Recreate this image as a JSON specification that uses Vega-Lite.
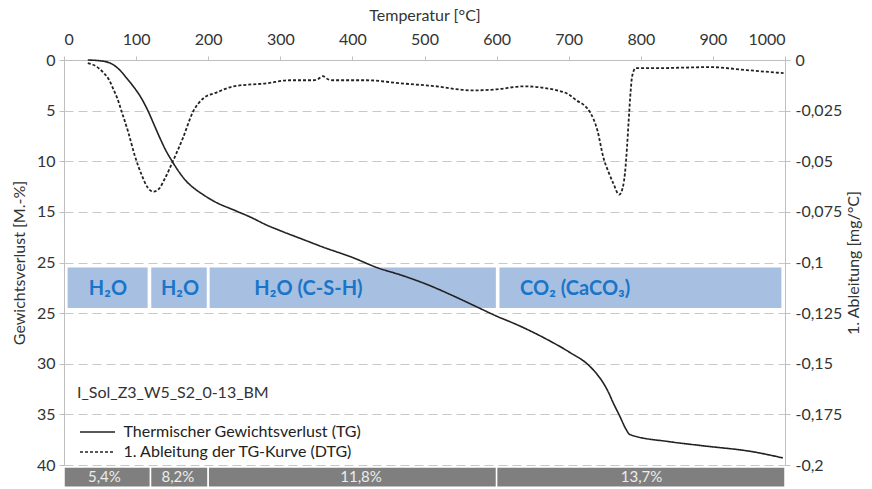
{
  "$schema": "https://vega.github.io/schema/vega-lite/v6.json",
  "width": 721,
  "height": 405,
  "autosize": {"type": "none"},
  "padding": {"left": 64, "top": 60, "right": 87, "bottom": 24},
  "background": "white",
  "config": {
    "view": {"stroke": null},
    "font": "Lato",
    "axis": {
      "labelFont": "Lato", "titleFont": "Lato", "labelFontSize": 16, "titleFontSize": 16,
      "titleFontWeight": "normal", "labelColor": "#333333", "titleColor": "#333333",
      "domainColor": "#bfbfbf", "tickColor": "#bfbfbf", "tickSize": 5, "grid": false
    },
    "legend": {
      "orient": "none", "legendX": 25.5, "legendY": 364, "title": null,
      "labelFont": "Lato", "labelFontSize": 16, "labelColor": "#222222", "labelLimit": 0,
      "symbolType": "M-3.5,0H3.5", "symbolSize": 100, "symbolStrokeColor": "#222222",
      "symbolStrokeWidth": 1.6, "labelOffset": 18, "rowPadding": 4, "padding": 0
    }
  },
  "datasets": {
    "curves": [
      {"series": "Thermischer Gewichtsverlust (TG)", "T": 33, "val": 0},
      {"series": "Thermischer Gewichtsverlust (TG)", "T": 50, "val": 0.08},
      {"series": "Thermischer Gewichtsverlust (TG)", "T": 64, "val": 0.3},
      {"series": "Thermischer Gewichtsverlust (TG)", "T": 76, "val": 0.9},
      {"series": "Thermischer Gewichtsverlust (TG)", "T": 87, "val": 1.8},
      {"series": "Thermischer Gewichtsverlust (TG)", "T": 96, "val": 2.6},
      {"series": "Thermischer Gewichtsverlust (TG)", "T": 105, "val": 3.5},
      {"series": "Thermischer Gewichtsverlust (TG)", "T": 117, "val": 5.1},
      {"series": "Thermischer Gewichtsverlust (TG)", "T": 125, "val": 6.4},
      {"series": "Thermischer Gewichtsverlust (TG)", "T": 133, "val": 7.7},
      {"series": "Thermischer Gewichtsverlust (TG)", "T": 141, "val": 8.9},
      {"series": "Thermischer Gewichtsverlust (TG)", "T": 150, "val": 10},
      {"series": "Thermischer Gewichtsverlust (TG)", "T": 160, "val": 11.1},
      {"series": "Thermischer Gewichtsverlust (TG)", "T": 170, "val": 12},
      {"series": "Thermischer Gewichtsverlust (TG)", "T": 181, "val": 12.7},
      {"series": "Thermischer Gewichtsverlust (TG)", "T": 193, "val": 13.3},
      {"series": "Thermischer Gewichtsverlust (TG)", "T": 212, "val": 14.1},
      {"series": "Thermischer Gewichtsverlust (TG)", "T": 235, "val": 14.8},
      {"series": "Thermischer Gewichtsverlust (TG)", "T": 258, "val": 15.5},
      {"series": "Thermischer Gewichtsverlust (TG)", "T": 281, "val": 16.3},
      {"series": "Thermischer Gewichtsverlust (TG)", "T": 305, "val": 17.0},
      {"series": "Thermischer Gewichtsverlust (TG)", "T": 327, "val": 17.6},
      {"series": "Thermischer Gewichtsverlust (TG)", "T": 360, "val": 18.5},
      {"series": "Thermischer Gewichtsverlust (TG)", "T": 400, "val": 19.5},
      {"series": "Thermischer Gewichtsverlust (TG)", "T": 434, "val": 20.5},
      {"series": "Thermischer Gewichtsverlust (TG)", "T": 470, "val": 21.3},
      {"series": "Thermischer Gewichtsverlust (TG)", "T": 508, "val": 22.3},
      {"series": "Thermischer Gewichtsverlust (TG)", "T": 540, "val": 23.3},
      {"series": "Thermischer Gewichtsverlust (TG)", "T": 573, "val": 24.4},
      {"series": "Thermischer Gewichtsverlust (TG)", "T": 600, "val": 25.3},
      {"series": "Thermischer Gewichtsverlust (TG)", "T": 630, "val": 26.2},
      {"series": "Thermischer Gewichtsverlust (TG)", "T": 670, "val": 27.6},
      {"series": "Thermischer Gewichtsverlust (TG)", "T": 702, "val": 28.9},
      {"series": "Thermischer Gewichtsverlust (TG)", "T": 727, "val": 30.1},
      {"series": "Thermischer Gewichtsverlust (TG)", "T": 740, "val": 31.1},
      {"series": "Thermischer Gewichtsverlust (TG)", "T": 748, "val": 31.9},
      {"series": "Thermischer Gewichtsverlust (TG)", "T": 755, "val": 32.8},
      {"series": "Thermischer Gewichtsverlust (TG)", "T": 762, "val": 33.9},
      {"series": "Thermischer Gewichtsverlust (TG)", "T": 771, "val": 35.2},
      {"series": "Thermischer Gewichtsverlust (TG)", "T": 779, "val": 36.4},
      {"series": "Thermischer Gewichtsverlust (TG)", "T": 785, "val": 37.0},
      {"series": "Thermischer Gewichtsverlust (TG)", "T": 840, "val": 37.7},
      {"series": "Thermischer Gewichtsverlust (TG)", "T": 886, "val": 38.1},
      {"series": "Thermischer Gewichtsverlust (TG)", "T": 956, "val": 38.7},
      {"series": "Thermischer Gewichtsverlust (TG)", "T": 997, "val": 39.3},
      {"series": "1. Ableitung der TG-Kurve (DTG)", "T": 33, "val": -0.0015},
      {"series": "1. Ableitung der TG-Kurve (DTG)", "T": 44, "val": -0.003},
      {"series": "1. Ableitung der TG-Kurve (DTG)", "T": 54, "val": -0.006},
      {"series": "1. Ableitung der TG-Kurve (DTG)", "T": 62, "val": -0.0095},
      {"series": "1. Ableitung der TG-Kurve (DTG)", "T": 68, "val": -0.014},
      {"series": "1. Ableitung der TG-Kurve (DTG)", "T": 74, "val": -0.019},
      {"series": "1. Ableitung der TG-Kurve (DTG)", "T": 80, "val": -0.0255},
      {"series": "1. Ableitung der TG-Kurve (DTG)", "T": 89, "val": -0.0355},
      {"series": "1. Ableitung der TG-Kurve (DTG)", "T": 98, "val": -0.047},
      {"series": "1. Ableitung der TG-Kurve (DTG)", "T": 108, "val": -0.057},
      {"series": "1. Ableitung der TG-Kurve (DTG)", "T": 116, "val": -0.063},
      {"series": "1. Ableitung der TG-Kurve (DTG)", "T": 124, "val": -0.065},
      {"series": "1. Ableitung der TG-Kurve (DTG)", "T": 132, "val": -0.0635},
      {"series": "1. Ableitung der TG-Kurve (DTG)", "T": 140, "val": -0.0585},
      {"series": "1. Ableitung der TG-Kurve (DTG)", "T": 151, "val": -0.05},
      {"series": "1. Ableitung der TG-Kurve (DTG)", "T": 165, "val": -0.0385},
      {"series": "1. Ableitung der TG-Kurve (DTG)", "T": 179, "val": -0.0255},
      {"series": "1. Ableitung der TG-Kurve (DTG)", "T": 193, "val": -0.019},
      {"series": "1. Ableitung der TG-Kurve (DTG)", "T": 212, "val": -0.016},
      {"series": "1. Ableitung der TG-Kurve (DTG)", "T": 235, "val": -0.013},
      {"series": "1. Ableitung der TG-Kurve (DTG)", "T": 281, "val": -0.0115},
      {"series": "1. Ableitung der TG-Kurve (DTG)", "T": 313, "val": -0.01},
      {"series": "1. Ableitung der TG-Kurve (DTG)", "T": 346, "val": -0.01},
      {"series": "1. Ableitung der TG-Kurve (DTG)", "T": 352, "val": -0.0095},
      {"series": "1. Ableitung der TG-Kurve (DTG)", "T": 359, "val": -0.008},
      {"series": "1. Ableitung der TG-Kurve (DTG)", "T": 366, "val": -0.0095},
      {"series": "1. Ableitung der TG-Kurve (DTG)", "T": 374, "val": -0.01},
      {"series": "1. Ableitung der TG-Kurve (DTG)", "T": 420, "val": -0.01},
      {"series": "1. Ableitung der TG-Kurve (DTG)", "T": 466, "val": -0.0115},
      {"series": "1. Ableitung der TG-Kurve (DTG)", "T": 510, "val": -0.01275},
      {"series": "1. Ableitung der TG-Kurve (DTG)", "T": 567, "val": -0.015},
      {"series": "1. Ableitung der TG-Kurve (DTG)", "T": 600, "val": -0.0145},
      {"series": "1. Ableitung der TG-Kurve (DTG)", "T": 637, "val": -0.013},
      {"series": "1. Ableitung der TG-Kurve (DTG)", "T": 684, "val": -0.015},
      {"series": "1. Ableitung der TG-Kurve (DTG)", "T": 700, "val": -0.017},
      {"series": "1. Ableitung der TG-Kurve (DTG)", "T": 711, "val": -0.02},
      {"series": "1. Ableitung der TG-Kurve (DTG)", "T": 722, "val": -0.0225},
      {"series": "1. Ableitung der TG-Kurve (DTG)", "T": 730, "val": -0.026},
      {"series": "1. Ableitung der TG-Kurve (DTG)", "T": 740, "val": -0.035},
      {"series": "1. Ableitung der TG-Kurve (DTG)", "T": 748, "val": -0.048},
      {"series": "1. Ableitung der TG-Kurve (DTG)", "T": 756, "val": -0.056},
      {"series": "1. Ableitung der TG-Kurve (DTG)", "T": 762, "val": -0.061},
      {"series": "1. Ableitung der TG-Kurve (DTG)", "T": 770, "val": -0.0665},
      {"series": "1. Ableitung der TG-Kurve (DTG)", "T": 775, "val": -0.063},
      {"series": "1. Ableitung der TG-Kurve (DTG)", "T": 778, "val": -0.056},
      {"series": "1. Ableitung der TG-Kurve (DTG)", "T": 781, "val": -0.0425},
      {"series": "1. Ableitung der TG-Kurve (DTG)", "T": 783, "val": -0.031},
      {"series": "1. Ableitung der TG-Kurve (DTG)", "T": 786, "val": -0.015},
      {"series": "1. Ableitung der TG-Kurve (DTG)", "T": 788, "val": -0.008},
      {"series": "1. Ableitung der TG-Kurve (DTG)", "T": 793, "val": -0.004},
      {"series": "1. Ableitung der TG-Kurve (DTG)", "T": 827, "val": -0.004},
      {"series": "1. Ableitung der TG-Kurve (DTG)", "T": 860, "val": -0.00375},
      {"series": "1. Ableitung der TG-Kurve (DTG)", "T": 896, "val": -0.0035},
      {"series": "1. Ableitung der TG-Kurve (DTG)", "T": 947, "val": -0.005},
      {"series": "1. Ableitung der TG-Kurve (DTG)", "T": 998, "val": -0.0065}
    ],
    "bands": [
      {"start": 5, "end": 116, "lo": 20.5, "hi": 24.5, "pos": 61, "mid": 22.6, "label": "H₂O"},
      {"start": 121, "end": 198, "lo": 20.5, "hi": 24.5, "pos": 161, "mid": 22.6, "label": "H₂O"},
      {"start": 202, "end": 599, "lo": 20.5, "hi": 24.5, "pos": 339, "mid": 22.6, "label": "H₂O (C-S-H)"},
      {"start": 604, "end": 995, "lo": 20.5, "hi": 24.5, "pos": 709, "mid": 22.6, "label": "CO₂ (CaCO₃)"}
    ],
    "shares": [
      {"start": 0, "end": 120, "lo": 40.2, "hi": 42.2, "pos": 56, "mid": 41.2, "label": "5,4%"},
      {"start": 120, "end": 200, "lo": 40.2, "hi": 42.2, "pos": 158, "mid": 41.2, "label": "8,2%"},
      {"start": 200, "end": 600, "lo": 40.2, "hi": 42.2, "pos": 412, "mid": 41.2, "label": "11,8%"},
      {"start": 600, "end": 1000, "lo": 40.2, "hi": 42.2, "pos": 801, "mid": 41.2, "label": "13,7%"}
    ],
    "sample": [
      {"T": 18, "v": 32.9, "label": "I_Sol_Z3_W5_S2_0-13_BM"}
    ]
  },
  "layer": [
    {
      "layer": [
        {
          "data": {"name": "bands"},
          "mark": {"type": "rect", "fill": "#a7c0e2"},
          "encoding": {
            "x": {"field": "start", "type": "quantitative", "scale": {"domain": [0, 1000], "nice": false}, "axis": {"orient": "top", "title": "Temperatur [°C]", "format": "d", "values": [0,50,100,150,200,250,300,350,400,450,500,550,600,650,700,750,800,850,900,950,1000], "labelExpr": "datum.value % 100 == 0 ? datum.label : ''", "labelPadding": 9, "titlePadding": 8, "tickSize": 4}},
            "x2": {"field": "end"},
            "y": {"field": "lo", "type": "quantitative", "scale": {"domain": [0, 40], "reverse": true, "nice": false}, "axis": {"orient": "left", "title": "Gewichtsverlust [M.-%]", "values": [0,5,10,15,20,25,30,35,40], "labelExpr": "datum.value == 20 ? '25' : datum.label", "grid": true, "gridColor": "#c8c8c8", "gridDash": [9, 5], "gridWidth": 1, "labelPadding": 4, "titlePadding": 9}},
            "y2": {"field": "hi"}
          }
        },
        {
          "data": {"name": "bands"},
          "mark": {"type": "text", "font": "Lato", "fontSize": 20, "fontWeight": "bold", "color": "#1a75c9", "baseline": "middle", "align": "center"},
          "encoding": {
            "x": {"field": "pos", "type": "quantitative"},
            "y": {"field": "mid", "type": "quantitative"},
            "text": {"field": "label"}
          }
        },
        {
          "data": {"name": "shares"},
          "mark": {"type": "rect", "fill": "#7f7f7f", "stroke": "white", "strokeWidth": 1.5},
          "encoding": {
            "x": {"field": "start", "type": "quantitative"},
            "x2": {"field": "end"},
            "y": {"field": "lo", "type": "quantitative"},
            "y2": {"field": "hi"}
          }
        },
        {
          "data": {"name": "shares"},
          "mark": {"type": "text", "font": "Lato", "fontSize": 15, "color": "#ececec", "baseline": "middle", "align": "center"},
          "encoding": {
            "x": {"field": "pos", "type": "quantitative"},
            "y": {"field": "mid", "type": "quantitative"},
            "text": {"field": "label"}
          }
        },
        {
          "data": {"name": "sample"},
          "mark": {"type": "text", "font": "Lato", "fontSize": 16, "color": "#333333", "baseline": "middle", "align": "left"},
          "encoding": {
            "x": {"field": "T", "type": "quantitative"},
            "y": {"field": "v", "type": "quantitative"},
            "text": {"field": "label"}
          }
        },
        {
          "data": {"name": "curves"},
          "transform": [{"filter": "datum.series == 'Thermischer Gewichtsverlust (TG)'"}],
          "mark": {"type": "line", "color": "#222222", "strokeWidth": 1.6, "interpolate": "monotone"},
          "encoding": {
            "x": {"field": "T", "type": "quantitative"},
            "y": {"field": "val", "type": "quantitative"},
            "strokeDash": {"field": "series", "type": "nominal", "scale": {"domain": ["Thermischer Gewichtsverlust (TG)", "1. Ableitung der TG-Kurve (DTG)"], "range": [[1, 0], [3, 2]]}, "legend": {}}
          }
        }
      ]
    },
    {
      "data": {"name": "curves"},
      "transform": [{"filter": "datum.series == '1. Ableitung der TG-Kurve (DTG)'"}],
      "mark": {"type": "line", "color": "#222222", "strokeWidth": 1.8, "interpolate": "monotone"},
      "encoding": {
        "x": {"field": "T", "type": "quantitative"},
        "y": {"field": "val", "type": "quantitative", "scale": {"domain": [-0.2, 0], "nice": false, "zero": false}, "axis": {"orient": "right", "title": "1. Ableitung [mg/°C]", "titleAngle": 270, "titleBaseline": "top", "values": [0, -0.025, -0.05, -0.075, -0.1, -0.125, -0.15, -0.175, -0.2], "labelExpr": "replace('' + datum.value, '.', ',')", "labelPadding": 5, "titlePadding": 4}},
        "strokeDash": {"field": "series", "type": "nominal"}
      }
    }
  ],
  "resolve": {"scale": {"y": "independent"}}
}
